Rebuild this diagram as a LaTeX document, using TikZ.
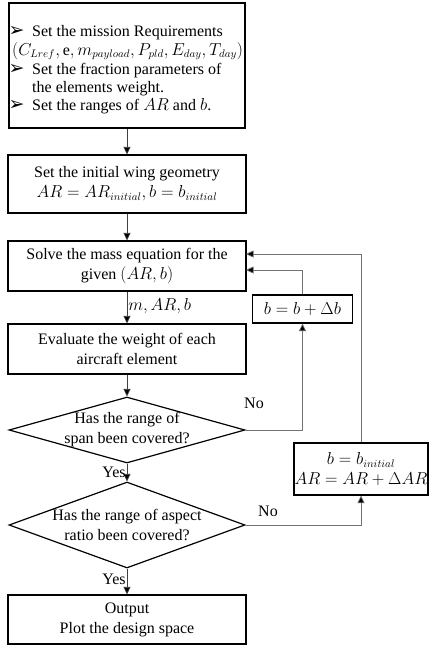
\documentclass[tikz,border=0pt]{standalone}
\usepackage{fontspec}
\setmainfont{Liberation Serif}
\newfontfamily\dejavu{DejaVu Sans}
\usetikzlibrary{arrows.meta,shapes.geometric}
\newcommand{\bul}{{\dejavu\fontsize{19}{19}\selectfont ➢}}
\begin{document}
\begin{tikzpicture}[x=1pt,y=-1pt,
  every node/.style={font=\fontsize{16}{20}\selectfont},
  box/.style={draw=black, line width=1.2pt, rectangle, inner sep=0pt, align=center},
  dia/.style={draw=black, line width=1.2pt, diamond, inner sep=0pt},
  ln/.style={anchor=base west, inner sep=0pt},
  conn/.style={draw=black!75, line width=0.7pt, -{Triangle[length=7.5pt,width=7pt,fill=black]}},
  back/.style={draw=black!55, line width=0.7pt, -{Triangle[length=7.5pt,width=7pt,fill=black]}},
  lbl/.style={inner sep=1pt}]
\useasboundingbox (0,0) rectangle (429,648);
\node[box, minimum width=236pt, minimum height=125pt] (b1) at (127,65.5) {};
\node[ln] (u1) at (8.5,36.5) {\bul};
\node[ln] (t1) at (32,36.5) {Set the mission Requirements};
\node[ln] (t2) at (12,55) {$(C_{Lref},\mathrm{e},m_{payload},P_{pld},E_{day},T_{day})$};
\node[ln] (u2) at (8.5,74) {\bul};
\node[ln] (t3) at (32,74) {Set the fraction parameters of};
\node[ln] (t4) at (32,92) {the elements weight.};
\node[ln] (u3) at (8.5,110) {\bul};
\node[ln] (t5) at (32,110) {Set the ranges of $AR$ and $b$.};
\node[box, minimum width=238pt, minimum height=58pt] (b2) at (127,184)
 {Set the initial wing geometry\\ $AR=AR_{initial}, b=b_{initial}$};
\node[box, minimum width=238pt, minimum height=50pt] (b3) at (127,266)
 {Solve the mass equation for the\\ given $(AR,b)$};
\node[box, minimum width=238pt, minimum height=50pt] (b4) at (127,349)
 {Evaluate the weight of each\\ aircraft element};
\node[dia, minimum width=236pt, minimum height=66pt] (d1) at (127,430) {};
\node[align=center, inner sep=0pt] (d1t) at (127,430) {Has the range of\\ span been covered?};
\node[dia, minimum width=236pt, minimum height=86pt] (d2) at (127,525) {};
\node[align=center, inner sep=0pt] (d2t) at (127,525) {Has the range of aspect\\ ratio been covered?};
\node[box, minimum width=238pt, minimum height=49pt] (b5) at (127,619.5)
 {Output\\ Plot the design space};
\node[box, minimum width=100pt, minimum height=28pt] (db) at (302.5,309) {$b=b+\Delta b$};
\node[box, minimum width=134pt, minimum height=52pt] (dar) at (361,469)
 {$b=b_{initial}$\\ $AR=AR+\Delta AR$};
\coordinate (in1) at (246,270);
\coordinate (in2) at (246,254);
\draw[conn] (b1) -- (b2);
\draw[conn] (b2) -- (b3);
\draw[conn] (b3) -- node[lbl, anchor=west, pos=0.45] (l1) {$m,AR,b$} (b4);
\draw[conn] (b4) -- (d1);
\draw[conn] (d1.south) -- node[lbl, anchor=east, pos=0.5] (l2) {Yes} (d2.north);
\draw[conn] (d2.south) -- node[lbl, anchor=east, pos=0.4] (l3) {Yes} (b5);
\draw[back] (d1.east) -| (db.south);
\node[lbl] (l4) at (254,403) {No};
\draw[back] (db.north) |- (in1);
\draw[back] (d2.east) -| (dar.south);
\node[lbl] (l5) at (268,511) {No};
\draw[back] (dar.north) |- (in2);
\end{tikzpicture}
\end{document}
